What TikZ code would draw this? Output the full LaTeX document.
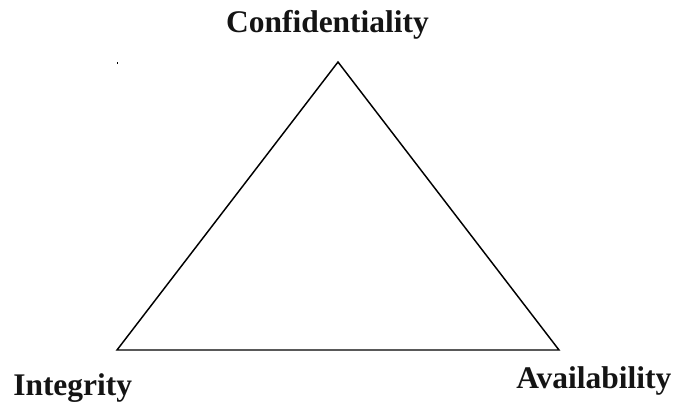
\documentclass[tikz,border=0pt]{standalone}
\usepackage{fontspec}
\setmainfont{Liberation Serif}
\usetikzlibrary{positioning}
\definecolor{figink}{HTML}{141414}
\tikzset{
  corner label/.style={font=\fontsize{23.6}{28}\selectfont\bfseries, text=figink, inner sep=0pt},
}
\begin{document}
\begin{tikzpicture}[x=0.75pt,y=-0.75pt]
\useasboundingbox (0,0) rectangle (674,403);
% triangle corners
\coordinate (conf) at (338,62);
\coordinate (integ) at (117,350);
\coordinate (avail) at (559,350);
\draw[line width=1.1pt,black,line join=miter] (conf)--(avail)--(integ)--cycle;
% labels
\node[corner label,anchor=base] (confl) at (327.5,33) {Confidentiality};
\node[corner label,anchor=base west] (integl) at (13,395) {Integrity};
\node[corner label,anchor=base west] (availl) at (516,388) {Availability};
\fill[black] (116.5,62) rectangle (117.5,64);
\end{tikzpicture}
\end{document}
